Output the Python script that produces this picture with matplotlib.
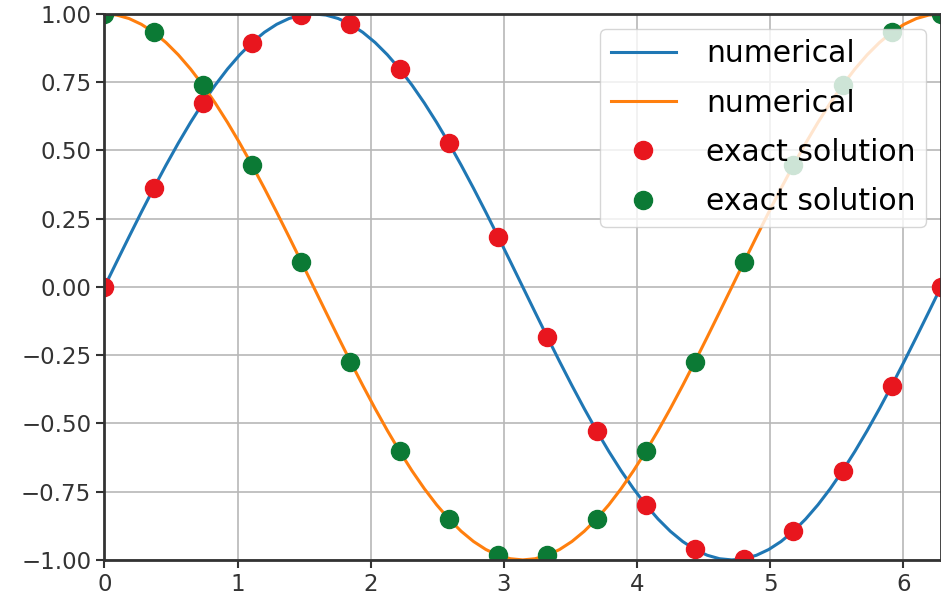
import matplotlib
matplotlib.use('Agg')
import matplotlib.pyplot as plt

# numerical curves (69 samples over 0..2pi)
t_line = [0.0, 0.0924, 0.1848, 0.2772, 0.3696, 0.4620, 0.5544, 0.6468, 0.7392, 0.8316,
          0.9240, 1.0164, 1.1088, 1.2012, 1.2936, 1.3860, 1.4784, 1.5708, 1.6632, 1.7556,
          1.8480, 1.9404, 2.0328, 2.1252, 2.2176, 2.3100, 2.4024, 2.4948, 2.5872, 2.6796,
          2.7720, 2.8644, 2.9568, 3.0492, 3.1416, 3.2340, 3.3264, 3.4188, 3.5112, 3.6036,
          3.6960, 3.7884, 3.8808, 3.9732, 4.0656, 4.1580, 4.2504, 4.3428, 4.4352, 4.5276,
          4.6200, 4.7124, 4.8048, 4.8972, 4.9896, 5.0820, 5.1744, 5.2668, 5.3592, 5.4516,
          5.5440, 5.6364, 5.7288, 5.8212, 5.9136, 6.0060, 6.0984, 6.1908, 6.2832]
num_1 = [0.0, 0.0923, 0.1837, 0.2737, 0.3612, 0.4457, 0.5264, 0.6026, 0.6737, 0.7390,
         0.7980, 0.8502, 0.8952, 0.9325, 0.9618, 0.9830, 0.9957, 1.0, 0.9957, 0.9830,
         0.9618, 0.9325, 0.8952, 0.8502, 0.7980, 0.7390, 0.6737, 0.6026, 0.5264, 0.4457,
         0.3612, 0.2737, 0.1837, 0.0923, 0.0, -0.0923, -0.1837, -0.2737, -0.3612, -0.4457,
         -0.5264, -0.6026, -0.6737, -0.7390, -0.7980, -0.8502, -0.8952, -0.9325, -0.9618, -0.9830,
         -0.9957, -1.0, -0.9957, -0.9830, -0.9618, -0.9325, -0.8952, -0.8502, -0.7980, -0.7390,
         -0.6737, -0.6026, -0.5264, -0.4457, -0.3612, -0.2737, -0.1837, -0.0923, 0.0]
num_2 = [1.0, 0.9957, 0.9830, 0.9618, 0.9325, 0.8952, 0.8502, 0.7980, 0.7390, 0.6737,
         0.6026, 0.5264, 0.4457, 0.3612, 0.2737, 0.1837, 0.0923, 0.0, -0.0923, -0.1837,
         -0.2737, -0.3612, -0.4457, -0.5264, -0.6026, -0.6737, -0.7390, -0.7980, -0.8502, -0.8952,
         -0.9325, -0.9618, -0.9830, -0.9957, -1.0, -0.9957, -0.9830, -0.9618, -0.9325, -0.8952,
         -0.8502, -0.7980, -0.7390, -0.6737, -0.6026, -0.5264, -0.4457, -0.3612, -0.2737, -0.1837,
         -0.0923, 0.0, 0.0923, 0.1837, 0.2737, 0.3612, 0.4457, 0.5264, 0.6026, 0.6737,
         0.7390, 0.7980, 0.8502, 0.8952, 0.9325, 0.9618, 0.9830, 0.9957, 1.0]

# exact solution points
t_pts = [0.0, 0.3696, 0.7392, 1.1088, 1.4784, 1.8480, 2.2176, 2.5872, 2.9568,
         3.3264, 3.6960, 4.0656, 4.4352, 4.8048, 5.1744, 5.5440, 5.9136, 6.2832]
exact_1 = [0.0, 0.3612, 0.6737, 0.8952, 0.9957, 0.9618, 0.7980, 0.5264, 0.1837,
           -0.1837, -0.5264, -0.7980, -0.9618, -0.9957, -0.8952, -0.6737, -0.3612, 0.0]
exact_2 = [1.0, 0.9325, 0.7390, 0.4457, 0.0923, -0.2737, -0.6026, -0.8502, -0.9830,
           -0.9830, -0.8502, -0.6026, -0.2737, 0.0923, 0.4457, 0.7390, 0.9325, 1.0]

fig = plt.figure(figsize=(9.41, 6.04), dpi=100)
ax = fig.add_axes([0.111, 0.073, 0.889, 0.904])

ax.plot(t_line, num_1, color='#1f77b4', lw=2.2, label='numerical')
ax.plot(t_line, num_2, color='#ff7f0e', lw=2.2, label='numerical')
ax.plot(t_pts, exact_1, 'o', color='#e8161e', ms=13, label='exact solution')
ax.plot(t_pts, exact_2, 'o', color='#0b7a35', ms=13, label='exact solution')

ax.set_xlim(0, 6.2832)
ax.set_ylim(-1, 1)
ax.set_yticks([-1, -0.75, -0.5, -0.25, 0, 0.25, 0.5, 0.75, 1])
ax.set_yticklabels(['−1.00', '−0.75', '−0.50', '−0.25', '0.00', '0.25', '0.50', '0.75', '1.00'])
ax.grid(True, color='#b8b8b8', lw=1.2)
ax.tick_params(labelsize=16.5, width=1.5, length=6, colors='#333333')
for s in ax.spines.values():
    s.set_linewidth(2)
    s.set_color('#333333')

ax.legend(loc='upper right', fontsize=21.5, framealpha=0.8, handlelength=2.2,
          borderpad=0.35, labelspacing=0.68, handletextpad=1.0)

fig.savefig('out.png', dpi=100)
